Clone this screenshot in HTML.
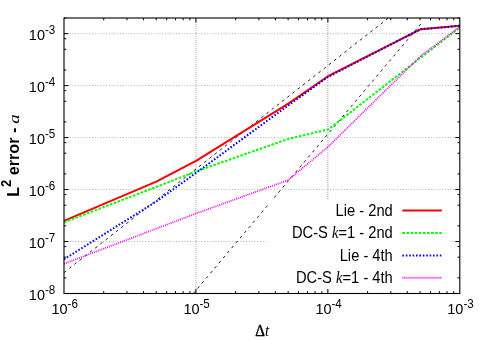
<!DOCTYPE html>
<html><head><meta charset="utf-8"><title>chart</title>
<style>
html,body{margin:0;padding:0;background:#fff;}
body{width:487px;height:341px;overflow:hidden;font-family:"Liberation Sans",sans-serif;}
svg{display:block;will-change:transform;}
text{font-family:"Liberation Sans",sans-serif;fill:#000;}
.tl{font-size:14.5px;}
.lg{font-size:14.7px;}
.sup{font-size:11.6px;}
.it{font-family:"Liberation Serif",serif;font-style:italic;font-weight:normal;}
</style></head><body>
<svg width="487" height="341" viewBox="0 0 487 341">
<rect x="0" y="0" width="487" height="341" fill="#ffffff"/>
<g stroke="#b0b0b0" stroke-width="1" stroke-dasharray="1 1.8" fill="none"><line x1="64.0" y1="241.53" x2="459.8" y2="241.53"/><line x1="64.0" y1="189.56" x2="459.8" y2="189.56"/><line x1="64.0" y1="137.59" x2="459.8" y2="137.59"/><line x1="64.0" y1="85.62" x2="459.8" y2="85.62"/><line x1="64.0" y1="33.64" x2="459.8" y2="33.64"/></g>
<g stroke="#a8a8a8" stroke-width="1" stroke-dasharray="1 1" fill="none"><line x1="195.93" y1="18.0" x2="195.93" y2="293.5"/><line x1="327.87" y1="18.0" x2="327.87" y2="293.5"/></g>
<g stroke="#222" stroke-width="1" fill="none" stroke-dasharray="2.8 3.8"><line x1="64" y1="272.6" x2="388.4" y2="18"/><line x1="193.3" y1="293.5" x2="422.9" y2="21.5"/></g>
<polyline points="64,220.9 156.3,181.6 196,160.8 288.3,103.6 328,76.2 420.3,29.3 460,25.8" fill="none" stroke="#ff0000" stroke-width="2" stroke-linejoin="round"/>
<polyline points="64,222.3 156.3,186.9 196,171.4 288.3,138.9 328.5,129.4 420.3,57.9 460,27.5" fill="none" stroke="#00ff00" stroke-width="2" stroke-dasharray="2.6 1.5"/>
<polyline points="64,259.3 156.3,201.5 196,173.0 235.7,143.8 288.3,105.4 328,77.0 420.3,29.3 460,25.8" fill="none" stroke="#0000ff" stroke-width="2" stroke-dasharray="1.6 1.8"/>
<polyline points="64,263.8 196,213.5 288,180.2 328.2,146.7 420.3,56.3 460,26.6" fill="none" stroke="#ff00ff" stroke-width="1.7" stroke-dasharray="1 1"/>
<rect x="268" y="200" width="182.5" height="89.5" fill="#ffffff"/>
<text class="lg" transform="translate(392.8,215.6) scale(1,1.07)" text-anchor="end">Lie - 2nd</text><line x1="402.4" y1="210.4" x2="441.8" y2="210.4" stroke="#ff0000" stroke-width="2"/>
<text class="lg" transform="translate(392.8,238.3) scale(1,1.07)" text-anchor="end">DC-S <tspan class="it">k</tspan>=1 - 2nd</text><line x1="402.4" y1="233.1" x2="441.8" y2="233.1" stroke="#00ff00" stroke-width="2" stroke-dasharray="2.6 1.5"/>
<text class="lg" transform="translate(392.8,260.6) scale(1,1.07)" text-anchor="end">Lie - 4th</text><line x1="402.4" y1="255.4" x2="441.8" y2="255.4" stroke="#0000ff" stroke-width="2" stroke-dasharray="1.6 1.8"/>
<text class="lg" transform="translate(392.8,283.0) scale(1,1.07)" text-anchor="end">DC-S <tspan class="it">k</tspan>=1 - 4th</text><line x1="402.4" y1="277.8" x2="441.8" y2="277.8" stroke="#ff00ff" stroke-width="2" stroke-dasharray="1 1"/>
<g stroke="#000" stroke-width="1" fill="none"><line x1="64.0" y1="277.86" x2="66.3" y2="277.86"/><line x1="459.8" y1="277.86" x2="457.5" y2="277.86"/><line x1="64.0" y1="257.17" x2="66.3" y2="257.17"/><line x1="459.8" y1="257.17" x2="457.5" y2="257.17"/><line x1="64.0" y1="246.57" x2="66.3" y2="246.57"/><line x1="459.8" y1="246.57" x2="457.5" y2="246.57"/><line x1="64.0" y1="241.53" x2="68.5" y2="241.53"/><line x1="459.8" y1="241.53" x2="455.3" y2="241.53"/><line x1="64.0" y1="225.88" x2="66.3" y2="225.88"/><line x1="459.8" y1="225.88" x2="457.5" y2="225.88"/><line x1="64.0" y1="205.20" x2="66.3" y2="205.20"/><line x1="459.8" y1="205.20" x2="457.5" y2="205.20"/><line x1="64.0" y1="194.59" x2="66.3" y2="194.59"/><line x1="459.8" y1="194.59" x2="457.5" y2="194.59"/><line x1="64.0" y1="189.56" x2="68.5" y2="189.56"/><line x1="459.8" y1="189.56" x2="455.3" y2="189.56"/><line x1="64.0" y1="173.91" x2="66.3" y2="173.91"/><line x1="459.8" y1="173.91" x2="457.5" y2="173.91"/><line x1="64.0" y1="153.23" x2="66.3" y2="153.23"/><line x1="459.8" y1="153.23" x2="457.5" y2="153.23"/><line x1="64.0" y1="142.62" x2="66.3" y2="142.62"/><line x1="459.8" y1="142.62" x2="457.5" y2="142.62"/><line x1="64.0" y1="137.59" x2="68.5" y2="137.59"/><line x1="459.8" y1="137.59" x2="455.3" y2="137.59"/><line x1="64.0" y1="121.94" x2="66.3" y2="121.94"/><line x1="459.8" y1="121.94" x2="457.5" y2="121.94"/><line x1="64.0" y1="101.26" x2="66.3" y2="101.26"/><line x1="459.8" y1="101.26" x2="457.5" y2="101.26"/><line x1="64.0" y1="90.65" x2="66.3" y2="90.65"/><line x1="459.8" y1="90.65" x2="457.5" y2="90.65"/><line x1="64.0" y1="85.62" x2="68.5" y2="85.62"/><line x1="459.8" y1="85.62" x2="455.3" y2="85.62"/><line x1="64.0" y1="69.97" x2="66.3" y2="69.97"/><line x1="459.8" y1="69.97" x2="457.5" y2="69.97"/><line x1="64.0" y1="49.29" x2="66.3" y2="49.29"/><line x1="459.8" y1="49.29" x2="457.5" y2="49.29"/><line x1="64.0" y1="38.68" x2="66.3" y2="38.68"/><line x1="459.8" y1="38.68" x2="457.5" y2="38.68"/><line x1="64.0" y1="33.64" x2="68.5" y2="33.64"/><line x1="459.8" y1="33.64" x2="455.3" y2="33.64"/><line x1="64.0" y1="18.00" x2="66.3" y2="18.00"/><line x1="459.8" y1="18.00" x2="457.5" y2="18.00"/><line x1="103.72" y1="293.5" x2="103.72" y2="291.2"/><line x1="103.72" y1="18.0" x2="103.72" y2="20.3"/><line x1="126.95" y1="293.5" x2="126.95" y2="291.2"/><line x1="126.95" y1="18.0" x2="126.95" y2="20.3"/><line x1="143.43" y1="293.5" x2="143.43" y2="291.2"/><line x1="143.43" y1="18.0" x2="143.43" y2="20.3"/><line x1="156.22" y1="293.5" x2="156.22" y2="291.2"/><line x1="156.22" y1="18.0" x2="156.22" y2="20.3"/><line x1="166.66" y1="293.5" x2="166.66" y2="291.2"/><line x1="166.66" y1="18.0" x2="166.66" y2="20.3"/><line x1="175.50" y1="293.5" x2="175.50" y2="291.2"/><line x1="175.50" y1="18.0" x2="175.50" y2="20.3"/><line x1="183.15" y1="293.5" x2="183.15" y2="291.2"/><line x1="183.15" y1="18.0" x2="183.15" y2="20.3"/><line x1="189.90" y1="293.5" x2="189.90" y2="291.2"/><line x1="189.90" y1="18.0" x2="189.90" y2="20.3"/><line x1="195.93" y1="293.5" x2="195.93" y2="289.0"/><line x1="195.93" y1="18.0" x2="195.93" y2="22.5"/><line x1="235.65" y1="293.5" x2="235.65" y2="291.2"/><line x1="235.65" y1="18.0" x2="235.65" y2="20.3"/><line x1="258.88" y1="293.5" x2="258.88" y2="291.2"/><line x1="258.88" y1="18.0" x2="258.88" y2="20.3"/><line x1="275.37" y1="293.5" x2="275.37" y2="291.2"/><line x1="275.37" y1="18.0" x2="275.37" y2="20.3"/><line x1="288.15" y1="293.5" x2="288.15" y2="291.2"/><line x1="288.15" y1="18.0" x2="288.15" y2="20.3"/><line x1="298.60" y1="293.5" x2="298.60" y2="291.2"/><line x1="298.60" y1="18.0" x2="298.60" y2="20.3"/><line x1="307.43" y1="293.5" x2="307.43" y2="291.2"/><line x1="307.43" y1="18.0" x2="307.43" y2="20.3"/><line x1="315.08" y1="293.5" x2="315.08" y2="291.2"/><line x1="315.08" y1="18.0" x2="315.08" y2="20.3"/><line x1="321.83" y1="293.5" x2="321.83" y2="291.2"/><line x1="321.83" y1="18.0" x2="321.83" y2="20.3"/><line x1="327.87" y1="293.5" x2="327.87" y2="289.0"/><line x1="327.87" y1="18.0" x2="327.87" y2="22.5"/><line x1="367.58" y1="293.5" x2="367.58" y2="291.2"/><line x1="367.58" y1="18.0" x2="367.58" y2="20.3"/><line x1="390.81" y1="293.5" x2="390.81" y2="291.2"/><line x1="390.81" y1="18.0" x2="390.81" y2="20.3"/><line x1="407.30" y1="293.5" x2="407.30" y2="291.2"/><line x1="407.30" y1="18.0" x2="407.30" y2="20.3"/><line x1="420.08" y1="293.5" x2="420.08" y2="291.2"/><line x1="420.08" y1="18.0" x2="420.08" y2="20.3"/><line x1="430.53" y1="293.5" x2="430.53" y2="291.2"/><line x1="430.53" y1="18.0" x2="430.53" y2="20.3"/><line x1="439.36" y1="293.5" x2="439.36" y2="291.2"/><line x1="439.36" y1="18.0" x2="439.36" y2="20.3"/><line x1="447.01" y1="293.5" x2="447.01" y2="291.2"/><line x1="447.01" y1="18.0" x2="447.01" y2="20.3"/><line x1="453.76" y1="293.5" x2="453.76" y2="291.2"/><line x1="453.76" y1="18.0" x2="453.76" y2="20.3"/></g>
<rect x="64.0" y="18.0" width="395.8" height="275.5" fill="none" stroke="#000" stroke-width="1.1"/>
<text class="tl" transform="translate(55.3,300.0) scale(1,1.06)" text-anchor="end">10<tspan class="sup" dy="-6.1">-8</tspan></text><text class="tl" transform="translate(55.3,248.0) scale(1,1.06)" text-anchor="end">10<tspan class="sup" dy="-6.1">-7</tspan></text><text class="tl" transform="translate(55.3,196.1) scale(1,1.06)" text-anchor="end">10<tspan class="sup" dy="-6.1">-6</tspan></text><text class="tl" transform="translate(55.3,144.1) scale(1,1.06)" text-anchor="end">10<tspan class="sup" dy="-6.1">-5</tspan></text><text class="tl" transform="translate(55.3,92.1) scale(1,1.06)" text-anchor="end">10<tspan class="sup" dy="-6.1">-4</tspan></text><text class="tl" transform="translate(55.3,40.1) scale(1,1.06)" text-anchor="end">10<tspan class="sup" dy="-6.1">-3</tspan></text>
<text class="tl" transform="translate(64.7,314.3) scale(1,1.06)" text-anchor="middle">10<tspan class="sup" dy="-6.1">-6</tspan></text><text class="tl" transform="translate(196.6,314.3) scale(1,1.06)" text-anchor="middle">10<tspan class="sup" dy="-6.1">-5</tspan></text><text class="tl" transform="translate(328.6,314.3) scale(1,1.06)" text-anchor="middle">10<tspan class="sup" dy="-6.1">-4</tspan></text><text class="tl" transform="translate(460.5,314.3) scale(1,1.06)" text-anchor="middle">10<tspan class="sup" dy="-6.1">-3</tspan></text>
<text transform="translate(262.2,335.9) scale(1,1.07)" text-anchor="middle" style="font-family:'Liberation Serif',serif;font-size:15px;"><tspan style="stroke:#000;stroke-width:0.4px">&#916;</tspan><tspan style="font-style:italic">t</tspan></text>
<text transform="translate(18.9,196.8) rotate(-90) scale(1.115,1.19)" text-anchor="start" style="font-size:14.5px;font-weight:bold;">L<tspan class="sup" dy="-6.8" style="font-weight:bold">2</tspan><tspan dy="6.8"> error -</tspan></text>
<text transform="translate(18.9,123.8) rotate(-90) scale(1.25,0.98)" text-anchor="start" class="it" style="font-size:15px">a</text>
</svg></body></html>
